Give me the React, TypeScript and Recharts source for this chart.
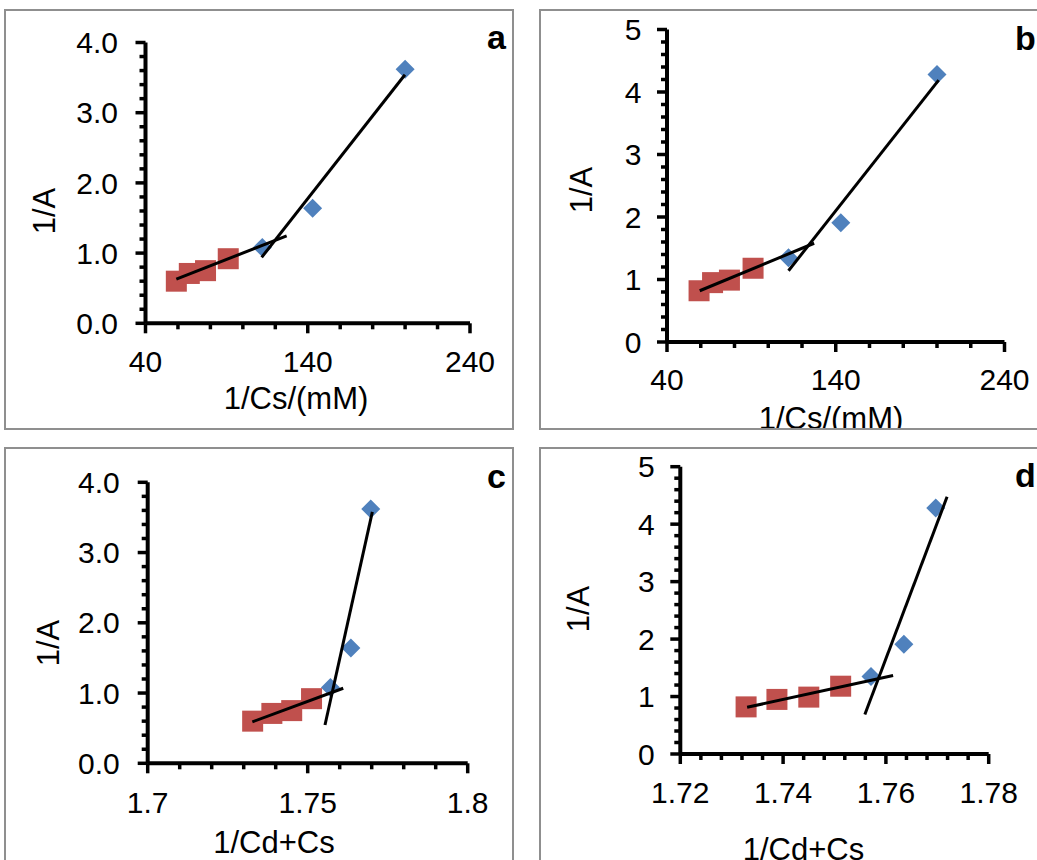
import React from 'react';
import { ScatterChart, Scatter, XAxis, YAxis } from 'recharts';

const FONT = '"Liberation Sans", Arial, Helvetica, sans-serif';
const RED = '#C0504D';
const BLUE = '#4F81BD';
const FRAME = '#8f8f8f';

// ---- data ----
const CS_RED = [59, 67, 77, 91];
const CS_BLUE = [112, 143, 200];
const CDS_RED = [1.7328, 1.7388, 1.745, 1.7512];
const CDS_BLUE = [1.7571, 1.7635, 1.7697];
const INV_A1_RED = [0.6, 0.71, 0.75, 0.92];
const INV_A1_BLUE = [1.08, 1.64, 3.62];
const INV_A2_RED = [0.82, 0.95, 0.99, 1.18];
const INV_A2_BLUE = [1.35, 1.91, 4.28];

// trend line end points
const TREND_A_RED_X = [59, 127];
const TREND_A_RED_Y = [0.63, 1.245];
const TREND_A_BLUE_X = [111.6, 199.9];
const TREND_A_BLUE_Y = [0.94, 3.54];
const TREND_B_RED_X = [59.4, 127.2];
const TREND_B_RED_Y = [0.82, 1.58];
const TREND_B_BLUE_X = [112, 201];
const TREND_B_BLUE_Y = [1.14, 4.19];
const TREND_C_RED_X = [1.7327, 1.7611];
const TREND_C_RED_Y = [0.59, 1.068];
const TREND_C_BLUE_X = [1.7554, 1.7702];
const TREND_C_BLUE_Y = [0.545, 3.58];
const TREND_D_RED_X = [1.733, 1.7614];
const TREND_D_RED_Y = [0.813, 1.366];
const TREND_D_BLUE_X = [1.7559, 1.7719];
const TREND_D_BLUE_Y = [0.686, 4.476];

// ---- tick labels ----
const CS_X_MAJOR = [40, 140, 240];
const CS_X_LABELS = ['40', '140', '240'];
const C_X_MAJOR = [1.7, 1.75, 1.8];
const C_X_LABELS = ['1.7', '1.75', '1.8'];
const D_X_MAJOR = [1.72, 1.74, 1.76, 1.78];
const D_X_LABELS = ['1.72', '1.74', '1.76', '1.78'];
const Y4_MAJOR = [0, 1, 2, 3, 4];
const Y4_LABELS = ['0.0', '1.0', '2.0', '3.0', '4.0'];
const Y5_MAJOR = [0, 1, 2, 3, 4, 5];
const Y5_LABELS = ['0', '1', '2', '3', '4', '5'];

const steps = (min: number, max: number, step: number) =>
  Array.from({ length: Math.round((max - min) / step) + 1 }, (_, i) => +(min + i * step).toFixed(6));

const pts = (xs: number[], ys: number[]) => xs.map((x, i) => ({ x, y: ys[i] }));

const TICK_FS = 30;
const TITLE_FS = 31;
const LETTER_FS = 34;

function makeYTick(majors: number[], labels: string[], gap: number) {
  return (props: any) => {
    const { x, y, payload } = props;
    const idx = majors.findIndex((m) => Math.abs(m - payload.value) < 1e-7);
    const major = idx >= 0;
    return (
      <g>
        <line x1={x - (major ? 10 : 6)} x2={x} y1={y} y2={y} stroke="#000" strokeWidth={3.5} />
        {major && (
          <text x={x - gap} y={y} dy="0.355em" textAnchor="end" fontFamily={FONT} fontSize={TICK_FS} fill="#000">
            {labels[idx]}
          </text>
        )}
      </g>
    );
  };
}

function makeXTick(majors: number[], labels: string[], gap: number) {
  return (props: any) => {
    const { x, y, payload } = props;
    const idx = majors.findIndex((m) => Math.abs(m - payload.value) < 1e-7);
    const major = idx >= 0;
    return (
      <g>
        <line x1={x} x2={x} y1={y} y2={y + (major ? 10 : 6)} stroke="#000" strokeWidth={3.5} />
        {major && (
          <text x={x} y={y + gap} textAnchor="middle" fontFamily={FONT} fontSize={TICK_FS} fill="#000">
            {labels[idx]}
          </text>
        )}
      </g>
    );
  };
}

const Square = (props: any) => {
  const { cx, cy } = props;
  if (cx == null || cy == null) return <g />;
  return <rect x={cx - 10.5} y={cy - 10.5} width={21} height={21} fill={RED} />;
};
const Diamond = (props: any) => {
  const { cx, cy } = props;
  if (cx == null || cy == null) return <g />;
  const r = 9.5;
  return <polygon points={`${cx},${cy - r} ${cx + r},${cy} ${cx},${cy + r} ${cx - r},${cy}`} fill={BLUE} />;
};
const NoDot = () => <g />;

type PanelCfg = {
  box: { l: number; t: number; w: number; h: number };
  plot: { l: number; t: number; r: number; b: number };
  xDomain: [number, number];
  xStep: number;
  xMajor: number[];
  xLabels: string[];
  xGap: number;
  yDomain: [number, number];
  yStep: number;
  yMajor: number[];
  yLabels: string[];
  yGap: number;
  red: { x: number; y: number }[];
  blue: { x: number; y: number }[];
  trendRed: { x: number; y: number }[];
  trendBlue: { x: number; y: number }[];
  xTitle: string;
  xTitlePos: [number, number];
  yTitlePos: [number, number];
  letter: string;
  letterPos: [number, number];
  letterAnchor: 'start' | 'end';
};

const PANELS: PanelCfg[] = [
  {
    box: { l: 4, t: 9, w: 510, h: 421 },
    plot: { l: 145.5, t: 42.5, r: 470, b: 323.3 },
    xDomain: [40, 240], xStep: 20, xMajor: CS_X_MAJOR, xLabels: CS_X_LABELS, xGap: 48.5,
    yDomain: [0, 4], yStep: 0.2, yMajor: Y4_MAJOR, yLabels: Y4_LABELS, yGap: 27.5,
    red: pts(CS_RED, INV_A1_RED), blue: pts(CS_BLUE, INV_A1_BLUE),
    trendRed: pts(TREND_A_RED_X, TREND_A_RED_Y), trendBlue: pts(TREND_A_BLUE_X, TREND_A_BLUE_Y),
    xTitle: '1/Cs/(mM)', xTitlePos: [296, 408.5], yTitlePos: [55, 211],
    letter: 'a', letterPos: [506, 49.3], letterAnchor: 'end',
  },
  {
    box: { l: 539, t: 9, w: 600, h: 421 },
    plot: { l: 667, t: 29.5, r: 1004.5, b: 342 },
    xDomain: [40, 240], xStep: 20, xMajor: CS_X_MAJOR, xLabels: CS_X_LABELS, xGap: 48,
    yDomain: [0, 5], yStep: 0.2, yMajor: Y5_MAJOR, yLabels: Y5_LABELS, yGap: 25.6,
    red: pts(CS_RED, INV_A2_RED), blue: pts(CS_BLUE, INV_A2_BLUE),
    trendRed: pts(TREND_B_RED_X, TREND_B_RED_Y), trendBlue: pts(TREND_B_BLUE_X, TREND_B_BLUE_Y),
    xTitle: '1/Cs/(mM)', xTitlePos: [831, 429], yTitlePos: [592, 190],
    letter: 'b', letterPos: [1015, 50], letterAnchor: 'start',
  },
  {
    box: { l: 4, t: 447, w: 510, h: 500 },
    plot: { l: 147.7, t: 482.3, r: 467.7, b: 763.3 },
    xDomain: [1.7, 1.8], xStep: 0.01, xMajor: C_X_MAJOR, xLabels: C_X_LABELS, xGap: 49.7,
    yDomain: [0, 4], yStep: 0.2, yMajor: Y4_MAJOR, yLabels: Y4_LABELS, yGap: 28,
    red: pts(CDS_RED, INV_A1_RED), blue: pts(CDS_BLUE, INV_A1_BLUE),
    trendRed: pts(TREND_C_RED_X, TREND_C_RED_Y), trendBlue: pts(TREND_C_BLUE_X, TREND_C_BLUE_Y),
    xTitle: '1/Cd+Cs', xTitlePos: [274, 852.5], yTitlePos: [58.5, 643],
    letter: 'c', letterPos: [506, 488.3], letterAnchor: 'end',
  },
  {
    box: { l: 539, t: 447, w: 600, h: 500 },
    plot: { l: 680.3, t: 466.7, r: 988.7, b: 754 },
    xDomain: [1.72, 1.78], xStep: 0.004, xMajor: D_X_MAJOR, xLabels: D_X_LABELS, xGap: 48.7,
    yDomain: [0, 5], yStep: 0.2, yMajor: Y5_MAJOR, yLabels: Y5_LABELS, yGap: 25.6,
    red: pts(CDS_RED, INV_A2_RED), blue: pts(CDS_BLUE, INV_A2_BLUE),
    trendRed: pts(TREND_D_RED_X, TREND_D_RED_Y), trendBlue: pts(TREND_D_BLUE_X, TREND_D_BLUE_Y),
    xTitle: '1/Cd+Cs', xTitlePos: [803.5, 860], yTitlePos: [588.7, 609],
    letter: 'd', letterPos: [1015, 487], letterAnchor: 'start',
  },
];

const W = 1037;
const H = 860;
const YW = 60;
const XH = 40;

function Panel({ cfg }: { cfg: PanelCfg }) {
  const { box, plot } = cfg;
  const margin = {
    top: plot.t,
    left: plot.l - YW,
    right: W - plot.r,
    bottom: H - plot.b - XH,
  };
  const trendLine = { stroke: '#000', strokeWidth: 3 };
  return (
    <div
      style={{
        position: 'absolute',
        left: box.l,
        top: box.t,
        width: box.w,
        height: box.h,
        border: `2px solid ${FRAME}`,
        boxSizing: 'border-box',
        overflow: 'hidden',
        background: '#fff',
      }}
    >
      <div style={{ position: 'absolute', left: -(box.l + 2), top: -(box.t + 2), width: W, height: H }}>
        <div style={{ position: 'absolute', left: 0, top: 0 }}>
          <ScatterChart width={W} height={H} margin={margin}>
            <XAxis
              type="number"
              dataKey="x"
              domain={cfg.xDomain}
              ticks={steps(cfg.xDomain[0], cfg.xDomain[1], cfg.xStep)}
              interval={0}
              height={XH}
              tickSize={0}
              tickMargin={0}
              tickLine={false}
              axisLine={{ stroke: '#000', strokeWidth: 4 }}
              tick={makeXTick(cfg.xMajor, cfg.xLabels, cfg.xGap)}
              allowDataOverflow
            />
            <YAxis
              type="number"
              dataKey="y"
              domain={cfg.yDomain}
              ticks={steps(cfg.yDomain[0], cfg.yDomain[1], cfg.yStep)}
              interval={0}
              width={YW}
              tickSize={0}
              tickMargin={0}
              tickLine={false}
              axisLine={{ stroke: '#000', strokeWidth: 4 }}
              tick={makeYTick(cfg.yMajor, cfg.yLabels, cfg.yGap)}
              allowDataOverflow
            />
            <Scatter data={cfg.blue} shape={Diamond} isAnimationActive={false} />
            <Scatter data={cfg.red} shape={Square} isAnimationActive={false} />
            <Scatter data={cfg.trendRed} line={trendLine} shape={NoDot} isAnimationActive={false} />
            <Scatter data={cfg.trendBlue} line={trendLine} shape={NoDot} isAnimationActive={false} />
          </ScatterChart>
        </div>
        <svg
          width={W}
          height={H}
          style={{ position: 'absolute', left: 0, top: 0, pointerEvents: 'none' }}
        >
          <text
            x={cfg.xTitlePos[0]}
            y={cfg.xTitlePos[1]}
            textAnchor="middle"
            fontFamily={FONT}
            fontSize={TITLE_FS}
            fill="#000"
          >
            {cfg.xTitle}
          </text>
          <text
            transform={`translate(${cfg.yTitlePos[0]},${cfg.yTitlePos[1]}) rotate(-90)`}
            textAnchor="middle"
            fontFamily={FONT}
            fontSize={TITLE_FS}
            fill="#000"
          >
            1/A
          </text>
          <text
            x={cfg.letterPos[0]}
            y={cfg.letterPos[1]}
            textAnchor={cfg.letterAnchor}
            fontFamily={FONT}
            fontWeight="bold"
            fontSize={LETTER_FS}
            fill="#000"
          >
            {cfg.letter}
          </text>
        </svg>
      </div>
    </div>
  );
}

export default function App() {
  return (
    <div
      style={{
        position: 'absolute',
        left: 0,
        top: 0,
        width: W,
        height: H,
        overflow: 'hidden',
        background: '#fff',
      }}
    >
      {PANELS.map((p) => (
        <Panel key={p.letter} cfg={p} />
      ))}
    </div>
  );
}
